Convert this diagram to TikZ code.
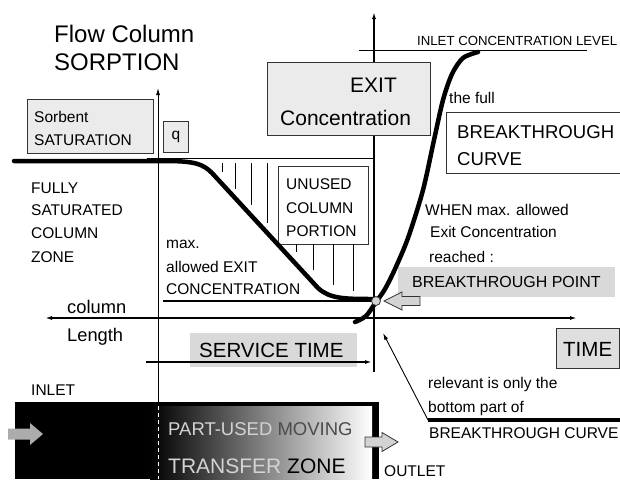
\documentclass[tikz,border=0pt]{standalone}
\usepackage{fontspec}
\setmainfont{Liberation Sans}
\usetikzlibrary{arrows.meta}
\definecolor{boxgray}{HTML}{EBEBEB}
\definecolor{bargray}{HTML}{D9D9D9}
\definecolor{edgegray}{HTML}{333333}
\definecolor{ghost}{HTML}{D3D3D3}
\definecolor{darkgray}{HTML}{4D4D4D}
\newcommand{\pxfont}[1]{\fontsize{#1}{#1}\selectfont}

\begin{document}
\begin{tikzpicture}[x=1pt, y=-1pt, >={Latex[length=7pt,width=4pt]},
  txt/.style={inner sep=0pt, anchor=base west, font=\pxfont{15.5}},
  bigtxt/.style={inner sep=0pt, anchor=base west, font=\pxfont{20.5}},
  box/.style={draw=edgegray, fill=boxgray, line width=0.9pt, inner sep=0pt, anchor=north west},
  plainbox/.style={box, fill=white},
  band/.style={fill=bargray, inner sep=0pt, anchor=north west},
  thin/.style={line width=0.9pt},
  heavy/.style={line width=4.5pt, line cap=round, line join=round},
  blockarrow/.style={draw=edgegray, fill=ghost, line width=0.8pt, line join=miter}]
  \useasboundingbox (0,0) rectangle (620,479);

  % column at the bottom
  \fill[black] (15,402) rectangle (379,479);
  \shade[left color=black, right color=white] (150,406) rectangle (372,479);
  \draw[white, line width=0.9pt, dash pattern=on 4pt off 3pt] (158,406) -- (158,479);
  \coordinate (intip) at (43,434);
  \coordinate (outtip) at (398,442);
  \draw[blockarrow, draw=none, fill=gray!65] (intip) -- ++(-13,-11) -- ++(0,5.5) -- ++(-22,0)
    -- ++(0,11) -- ++(22,0) -- ++(0,5.5) -- cycle;
  \draw[blockarrow] (outtip) -- ++(-16,-9.5) -- ++(0,4.5) -- ++(-17,0)
    -- ++(0,10) -- ++(17,0) -- ++(0,4.5) -- cycle;

  % axes
  \coordinate (qfoot) at (158,402);
  \coordinate (qtop) at (158,88);
  \coordinate (cfoot) at (374,372);
  \coordinate (ctop) at (374,12);
  \coordinate (tright) at (577,318);
  \coordinate (tleft) at (45,318);
  \draw[->, thin] (qfoot) -- (qtop);
  \draw[->, line width=2pt] (cfoot) -- (ctop);
  \draw[<->, line width=2pt] (tleft) -- (tright);
  \draw[thin] (147,158) -- (374,158);
  \draw[thin] (359,50) -- (587,50);
  \draw[line width=1.2pt] (163,301) -- (376,301);

  % boxes
  \node[box, minimum width=126pt, minimum height=54pt] (sorbbox) at (27,99) {};
  \node[box, minimum width=25pt, minimum height=31pt] (qbox) at (163,121) {};
  \node[box, minimum width=163pt, minimum height=73pt] (exitbox) at (267,62) {};
  \node[plainbox, minimum width=180pt, minimum height=61pt] (btcbox) at (446,112) {};
  \node[plainbox, minimum width=90pt, minimum height=78pt] (unusedbox) at (278,166) {};
  \node[band, minimum width=217pt, minimum height=30pt] (bpbox) at (398,267) {};
  \node[band, minimum width=167pt, minimum height=34pt] (stbox) at (190,333) {};
  \node[box, fill=bargray!85, minimum width=63pt, minimum height=40pt] (timebox) at (556,328) {};

  % unused portion hatch
  \foreach \x/\y in {222/172, 235/189, 251/205, 267/223}
    \draw[line width=0.8pt] (\x,163) -- (\x,\y);
  \foreach \x/\y in {296/252, 313/270, 333/285, 353/291}
    \draw[line width=0.8pt] (\x,244) -- (\x,\y);

  % curves
  \draw[heavy] (14,161) -- (165,161) .. controls (195,161) and (203,164) .. (212,173)
    -- (318,288) .. controls (330,299) and (345,299) .. (374,299);
  \draw[heavy] plot[smooth] coordinates {(355,322) (366,316) (376,302) (385,289) (395,269)
    (408,238) (423,190) (434,140) (443,100) (452,74) (463,58) (478,52)};
  \node[circle, draw=edgegray, fill=ghost, line width=0.8pt, minimum size=9pt, inner sep=0pt] (bpt) at (376,301) {};
  \coordinate (bptip) at (384,301);
  \draw[blockarrow] (bptip) -- ++(18,-9) -- ++(0,4.5) -- ++(18,0)
    -- ++(0,9) -- ++(-18,0) -- ++(0,4.5) -- cycle;

  % service time and pointer
  \coordinate (ststart) at (146,362);
  \coordinate (stend) at (372,362);
  \draw[->, line width=2pt] (ststart) -- (stend);
  \coordinate (ptail) at (428,420);
  \coordinate (ptip) at (383,333);
  \coordinate (pend) at (620,420);
  \draw[->, thin] (ptail) -- (ptip);
  \draw[line width=3.5pt] (ptail) -- (pend);

  % labels
  \node[inner sep=0pt, anchor=base west, font=\pxfont{24}] (title1) at (54,42) {Flow Column};
  \node[inner sep=0pt, anchor=base west, font=\pxfont{24}] (title2) at (54,70) {SORPTION};
  \node[txt] (sorb1) at (34,122) {Sorbent};
  \node[txt] (sorb2) at (34,145) {SATURATION};
  \node[inner sep=0pt, font=\pxfont{15.5}] (qlabel) at (qbox.center) {q};
  \node[txt] (full1) at (31,193) {FULLY};
  \node[txt] (full2) at (31,215) {SATURATED};
  \node[txt] (full3) at (31,238) {COLUMN};
  \node[txt] (full4) at (31,262) {ZONE};
  \node[txt] (max1) at (166,248) {max.};
  \node[txt] (max2) at (166,272) {allowed EXIT};
  \node[txt] (max3) at (166,294) {CONCENTRATION};
  \node[txt] (unused1) at (286,189) {UNUSED};
  \node[txt] (unused2) at (286,213) {COLUMN};
  \node[txt] (unused3) at (286,236) {PORTION};
  \node[inner sep=0pt, anchor=base west, font=\pxfont{18.3}] (len1) at (67,313) {column};
  \node[inner sep=0pt, anchor=base west, font=\pxfont{18.3}] (len2) at (67,341) {Length};
  \node[txt] (inlet) at (31,395) {INLET};
  \node[inner sep=0pt, anchor=base west, font=\pxfont{18.5}] (mtz1) at (168,435)
    {\textcolor{ghost}{PART-USED} \textcolor{darkgray}{MOVING}};
  \node[inner sep=0pt, anchor=base west, font=\pxfont{21}] (mtz2) at (168,473)
    {\textcolor{ghost}{TRANSFER} ZONE};
  \node[txt] (outlet) at (384,476) {OUTLET};
  \node[bigtxt] (stlabel) at (199,357) {SERVICE TIME};
  \node[inner sep=0pt, anchor=base west, font=\pxfont{21}] (exit1) at (350,92) {EXIT};
  \node[inner sep=0pt, anchor=base west, font=\pxfont{21}] (exit2) at (280,125) {Concentration};
  \node[inner sep=0pt, anchor=base west, font=\pxfont{13.2}] (inletlevel) at (417,45) {INLET CONCENTRATION LEVEL};
  \node[txt] (thefull) at (449,103) {the full};
  \node[inner sep=0pt, anchor=base west, font=\pxfont{18.6}] (btc1) at (457,138) {BREAKTHROUGH};
  \node[inner sep=0pt, anchor=base west, font=\pxfont{18.6}] (btc2) at (457,165) {CURVE};
  \node[txt] (when1) at (425,215) {WHEN max. allowed};
  \node[txt] (when2) at (430,237) {Exit Concentration};
  \node[txt] (when3) at (429,262) {reached :};
  \node[inner sep=0pt, anchor=base west, font=\pxfont{16}] (bplabel) at (412,287) {BREAKTHROUGH POINT};
  \node[bigtxt] (timelabel) at (563,356) {TIME};
  \node[txt] (rel1) at (428,388) {relevant is only the};
  \node[txt] (rel2) at (428,412) {bottom part of};
  \node[txt] (rel3) at (429,438) {BREAKTHROUGH CURVE};
\end{tikzpicture}
\end{document}
